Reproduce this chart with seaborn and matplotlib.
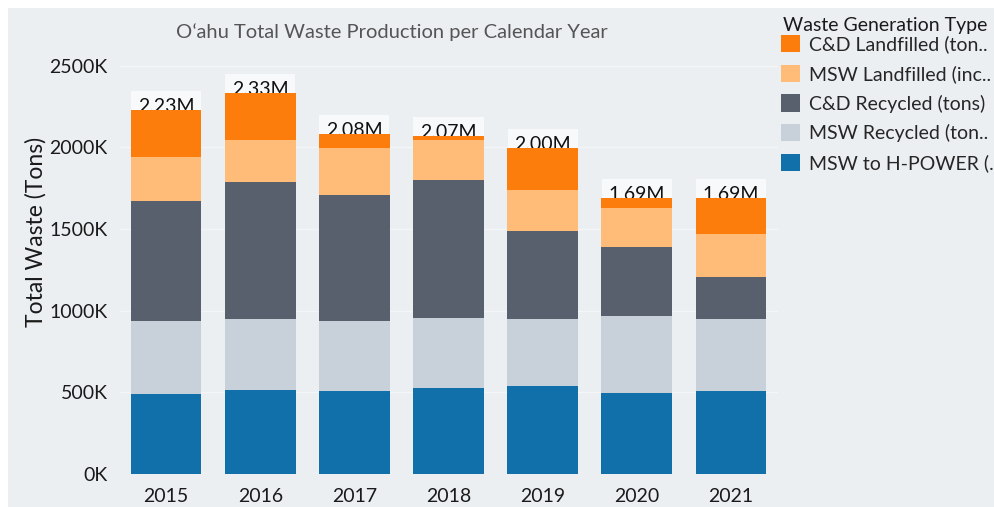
import matplotlib
matplotlib.use("Agg")
import matplotlib.pyplot as plt
from matplotlib.patches import Patch, Rectangle
from matplotlib.ticker import FuncFormatter
import matplotlib.transforms as mtransforms
import numpy as np
import pandas as pd
import seaborn as sns

# ---------------- data (tons) ----------------
years = ['2015', '2016', '2017', '2018', '2019', '2020', '2021']
msw_hpower = [490000, 514000, 506000, 525000, 541000, 496000, 506000]
msw_recycled = [449000, 433000, 433000, 432000, 406000, 470000, 441000]
cd_recycled = [735000, 841000, 771000, 842000, 541000, 426000, 259000]
msw_landfilled = [267000, 257000, 285000, 246000, 249000, 239000, 266000]
cd_landfilled = [287000, 287000, 88000, 26000, 261000, 60000, 218000]

legend_labels = ['C&D Landfilled (ton..', 'MSW Landfilled (inc..', 'C&D Recycled (tons)',
                 'MSW Recycled (ton..', 'MSW to H-POWER (..']

# colours, bottom layer first
col_blue = '#1170aa'
col_lgray = '#c8d0d9'
col_dgray = '#57606c'
col_lorange = '#ffbc79'
col_orange = '#fc7d0b'
bg = '#eceff2'

df = pd.DataFrame({
    'Year': years,
    'MSW to H-POWER': msw_hpower,
    'MSW Recycled': msw_recycled,
    'C&D Recycled': cd_recycled,
    'MSW Landfilled': msw_landfilled,
    'C&D Landfilled': cd_landfilled,
})
layers = ['MSW to H-POWER', 'MSW Recycled', 'C&D Recycled', 'MSW Landfilled', 'C&D Landfilled']
colors = [col_blue, col_lgray, col_dgray, col_lorange, col_orange]
cum = df[layers].cumsum(axis=1)
df['Total'] = cum[layers[-1]]

sns.set_style('white')
plt.rcParams['font.family'] = ['Lato', 'DejaVu Sans']

fig = plt.figure(figsize=(9.95, 5.07), dpi=100, facecolor='white')
# grey panel (screenshot has a thin white border top/left)
fig.patches.append(Rectangle((8/995, 0), 1, 1 - 8/507, transform=fig.transFigure,
                             facecolor=bg, edgecolor='none', zorder=-10))

ax = fig.add_axes([119/995, 33/507, 659/995, 424.6/507])
ax.set_facecolor(bg)
ax.patch.set_alpha(0)

# stacked bars: draw cumulative heights from top layer down
for name, c in zip(layers[::-1], colors[::-1]):
    sns.barplot(x=df['Year'], y=cum[name], color=c, saturation=1, width=0.75,
                linewidth=0, edgecolor='none', ax=ax, zorder=2)

# total labels
offset = mtransforms.offset_copy(ax.transData, fig=fig, x=0, y=-2, units='dots')
for i, t in enumerate(df['Total']):
    ax.text(i, t, f'{t/1e6:.2f}M', ha='center', va='baseline', fontsize=14,
            color='#111111', transform=offset, zorder=1.5,
            bbox=dict(boxstyle='square,pad=0.35', facecolor='#f8f9fa', edgecolor='none'))

ax.set_ylim(0, 2600000)
ax.set_xlim(-0.5, 6.5)
ax.set_yticks(np.arange(0, 2500001, 500000))
ax.yaxis.set_major_formatter(FuncFormatter(lambda v, p: f'{int(v/1000)}K'))
ax.grid(axis='y', color='#f3f5f7', linewidth=1)
ax.set_axisbelow(True)
for s in ax.spines.values():
    s.set_visible(False)
ax.tick_params(axis='both', length=0, labelsize=14, colors='#1a1a1a')
ax.tick_params(axis='y', pad=8)
ax.tick_params(axis='x', pad=10)
ax.set_xlabel('')
ax.set_ylabel('Total Waste (Tons)', fontsize=16.5, color='#1a1a1a')
ax.yaxis.set_label_coords(-0.11, 0.57)

fig.text(392/995, 1 - 32/507, 'O\u02bbahu Total Waste Production per Calendar Year',
         ha='center', va='center', fontsize=14.5, color='#555555')

fig.text(783/995, 1 - 25/507, 'Waste Generation Type', ha='left', va='center',
         fontsize=14, color='#1a1a1a')
handles = [Patch(facecolor=c, edgecolor='none') for c in colors[::-1]]
leg = fig.legend(handles, legend_labels, loc='upper left',
                 bbox_to_anchor=(781/995, 1 - 35/507), frameon=False,
                 fontsize=14, handlelength=1.0, handleheight=1.0, labelspacing=0.58,
                 handletextpad=0.45, borderaxespad=0, borderpad=0)

fig.savefig('out.png', dpi=100, facecolor=fig.get_facecolor())
